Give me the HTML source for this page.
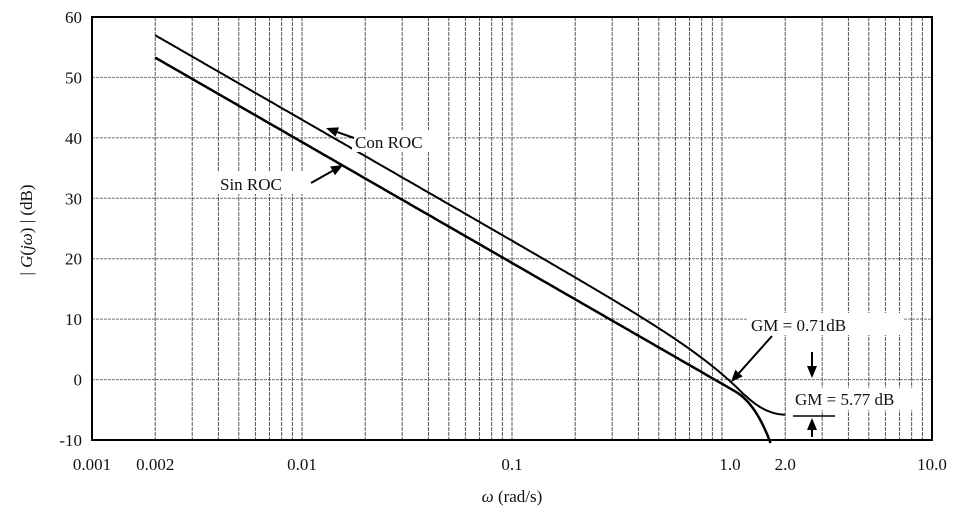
<!DOCTYPE html><html><head><style>body{margin:0;background:#fff}svg{display:block}text{font-family:"Liberation Serif",serif;fill:#111}</style></head><body>
<svg id="s" width="971" height="529" xmlns="http://www.w3.org/2000/svg"></svg>
<script>
const L=92,R=932,T=17,B=440,D=210;
const X=w=>L+(Math.log10(w)+3)*D, Y=d=>T+(60-d)*(B-T)/70;
let h='';
for(let d=-10;d<=60;d+=10)h+=`<line x1="${L}" x2="${R}" y1="${Y(d)}" y2="${Y(d)}" stroke="#777" stroke-width="1" stroke-dasharray="3,1"/>`;
for(let e=-3;e<1;e++)for(let m=2;m<=10;m++){const x=X(m*Math.pow(10,e));if(x<R-1)h+=`<line x1="${x}" x2="${x}" y1="${T}" y2="${B}" stroke="#555" stroke-width="1" stroke-dasharray="4,1"/>`;}
h+=`<rect x="${L}" y="${T}" width="${R-L}" height="${B-T}" fill="none" stroke="#000" stroke-width="2"/>`;
const yl=[60,50,40,30,20,10,0,-10];
yl.forEach(d=>h+=`<text x="82" y="${Y(d)+6}" font-size="17" text-anchor="end">${d}</text>`);
[[0.001,"0.001"],[0.002,"0.002"],[0.01,"0.01"],[0.1,"0.1"],[1,"1.0"],[2,"2.0"],[10,"10.0"]].forEach(([w,t])=>h+=`<text x="${X(w)+(w==1?8:0)}" y="470" font-size="17" text-anchor="middle">${t}</text>`);
h+=`<text x="512" y="502" font-size="17" text-anchor="middle"><tspan font-style="italic">ω</tspan> (rad/s)</text>`;
h+=`<text transform="translate(32,230) rotate(-90)" font-size="17" text-anchor="middle">| <tspan font-style="italic">G</tspan>(<tspan font-style="italic">jω</tspan>) | (dB)</text>`;
function path(pts){return pts.map((p,i)=>(i?'L':'M')+X(p[0]).toFixed(1)+','+Y(p[1]).toFixed(1)).join(' ');}
const sin=[],con=[];
for(let lw=Math.log10(0.002);lw<=0.3;lw+=0.005){const w=Math.pow(10,lw);
 let s=-20*lw-0.7-17*Math.pow(Math.max(0,w-1.15),2); sin.push([w,s]); if(s<-10.3)break;}
const l1=Math.log10(1.28),l2=Math.log10(2.0);
for(let lw=Math.log10(0.002);lw<=l2+0.001;lw+=0.005){const w=Math.pow(10,lw);let c;
 if(lw<=l1)c=-20*lw+3-2.1*w*w; else {const t=(lw-l1)/(l2-l1);c=-2.5-3.3*(1-(1-t)*(1-t));}
 con.push([w,c]);}
h+=`<path d="${path(sin)}" fill="none" stroke="#000" stroke-width="2.5"/>`;
h+=`<path d="${path(con)}" fill="none" stroke="#000" stroke-width="2"/>`;
function arrow(x1,y1,x2,y2){const a=Math.atan2(y2-y1,x2-x1),l=12,wd=5;const bx=x2-l*Math.cos(a),by=y2-l*Math.sin(a);
 return `<line x1="${x1}" y1="${y1}" x2="${bx}" y2="${by}" stroke="#000" stroke-width="2"/><polygon points="${x2},${y2} ${bx-wd*Math.sin(a)},${by+wd*Math.cos(a)} ${bx+wd*Math.sin(a)},${by-wd*Math.cos(a)}" fill="#000"/>`;}
h+=`<rect x="352" y="130" width="96" height="22" fill="#fff"/><text x="355" y="148" font-size="17">Con ROC</text>`+arrow(354,138,326,128);
h+=`<rect x="218" y="172" width="92" height="22" fill="#fff"/><text x="220" y="190" font-size="17">Sin ROC</text>`+arrow(311,183,343,165);
h+=`<rect x="748" y="313" width="156" height="22" fill="#fff"/><text x="751" y="331" font-size="17">GM = 0.71dB</text>`+arrow(772,336,731,382);
h+=arrow(812,352,812,378)+`<rect x="793" y="388" width="126" height="22" fill="#fff"/><text x="795" y="405" font-size="17">GM = 5.77 dB</text><line x1="793" x2="835" y1="416" y2="416" stroke="#000" stroke-width="1.5"/>`+arrow(812,437,812,418);
document.getElementById('s').innerHTML=h;
</script></body></html>
